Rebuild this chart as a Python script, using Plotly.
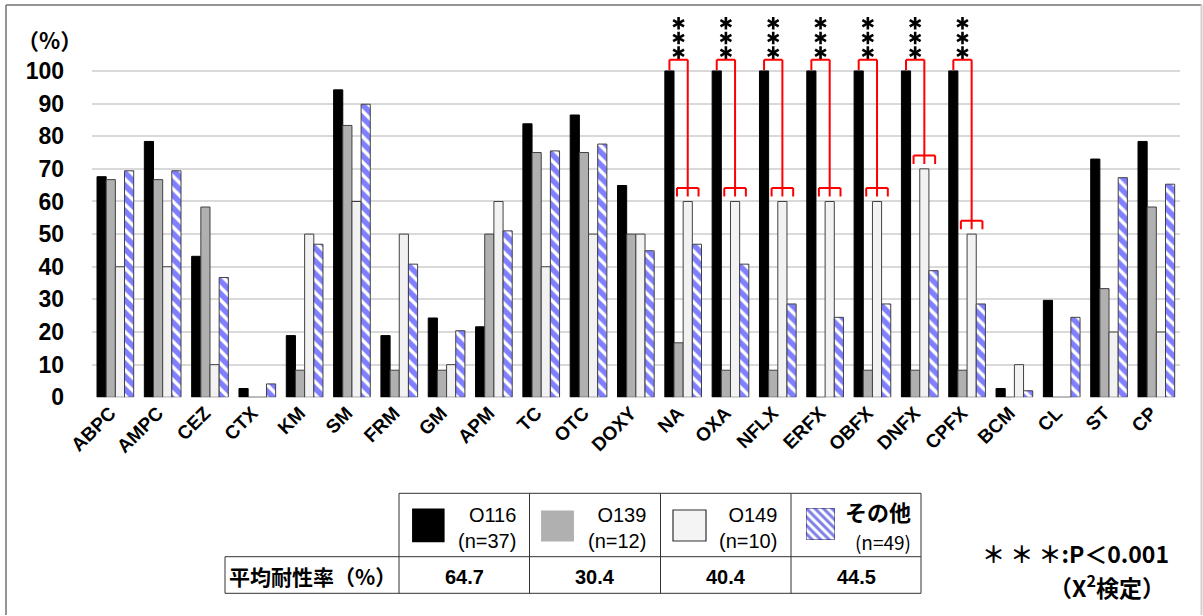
import plotly.graph_objects as go

# Antimicrobial resistance rate (%) by serogroup
drugs = ["ABPC", "AMPC", "CEZ", "CTX", "KM", "SM", "FRM", "GM", "APM", "TC", "OTC", "DOXY",
         "NA", "OXA", "NFLX", "ERFX", "OBFX", "DNFX", "CPFX", "BCM", "CL", "ST", "CP"]
o116 = [67.6, 78.4, 43.2, 2.7, 18.9, 94.2, 18.9, 24.3, 21.6, 83.8, 86.5, 64.9,
        100, 100, 100, 100, 100, 100, 100, 2.7, 29.7, 73.0, 78.4]
o139 = [66.7, 66.7, 58.3, 0, 8.3, 83.3, 8.3, 8.3, 50.0, 75.0, 75.0, 50.0,
        16.7, 8.3, 8.3, 0, 8.3, 8.3, 8.3, 0, 0, 33.3, 58.3]
o149 = [40, 40, 10, 0, 50, 60, 50, 10, 60, 40, 50, 50,
        60, 60, 60, 60, 60, 70, 50, 10, 0, 20, 20]
others = [69.4, 69.4, 36.7, 4.1, 46.9, 89.8, 40.8, 20.4, 51.0, 75.5, 77.6, 44.9,
          46.9, 40.8, 28.6, 24.5, 28.6, 38.8, 28.6, 2.0, 24.5, 67.3, 65.3]

series_names = ["O116", "O139", "O149", "その他"]
series_n = [37, 12, 10, 49]
mean_rates = [64.7, 30.4, 40.4, 44.5]

# drugs with a significant O116 vs O149 difference (***: P<0.001)
sig_drugs = ["NA", "OXA", "NFLX", "ERFX", "OBFX", "DNFX", "CPFX"]

W, H = 1203, 616
BARGAP = 0.225


def px(x):
    return x / W


def py(y):
    return 1 - y / H


FONT_LAT = "Liberation Sans, Arial, sans-serif"
FONT_JP = "Noto Sans CJK JP, sans-serif"
CLEAR = "rgba(0,0,0,0)"

pos = list(range(len(drugs)))

fig = go.Figure()

styles = [
    dict(color="#000000", line=dict(color="#000000", width=1)),
    dict(color="#b0b0b0", line=dict(color="#404040", width=1)),
    dict(color="#f2f2f2", line=dict(color="#404040", width=1)),
    dict(color="#ffffff", line=dict(color="#404040", width=1),
         pattern=dict(shape="\\", fgcolor="#0000ff", bgcolor="#ffffff", size=9, solidity=0.62)),
]
for name, vals, st in zip(series_names, [o116, o139, o149, others], styles):
    fig.add_trace(go.Bar(x=pos, y=vals, name=name, marker=st, showlegend=False,
                         customdata=drugs, hovertemplate="%{customdata}: %{y}<extra>" + name + "</extra>"))

# patterned swatch for the table key (own small axes)
fig.add_trace(go.Bar(x=[0], y=[1], width=[1], xaxis="x2", yaxis="y2", showlegend=False,
                     marker=dict(color="#ffffff", line=dict(color="#202060", width=1),
                                 pattern=dict(shape="\\", fgcolor="#0000cc", bgcolor="#ffffff",
                                              size=6, solidity=0.5)),
                     hoverinfo="skip"))

shapes = []
annotations = []


def note(x, y, text, size, family=FONT_JP, bold=False, xanchor="center", yanchor="middle",
         align="center"):
    annotations.append(dict(x=x, y=y, xref="paper", yref="paper", text=text, showarrow=False,
                            xanchor=xanchor, yanchor=yanchor, align=align,
                            font=dict(family=family, size=size, color="black",
                                      weight="bold" if bold else "normal")))


# significance brackets between O116 and O149 bars
slot = (1 - BARGAP) / 4


def bar_center(i, j):
    return i - (1 - BARGAP) / 2 + (j + 0.5) * slot


red = dict(color="#ff0000", width=2)
star_x, star_y = [], []
for d in sig_drugs:
    i = drugs.index(d)
    xb = bar_center(i, 0)
    xw = bar_center(i, 2)
    top_b = o116[i]
    top_w = o149[i]
    y_top = top_b + 3.4
    y_fork = top_w + 4.1
    y_leg = top_w + 1.5
    half = 0.228
    segs = [
        (xb, top_b + 0.3, xb, y_top),
        (xb, y_top, xw, y_top),
        (xw, y_top, xw, y_fork),
        (xw - half, y_fork, xw + half, y_fork),
        (xw - half, y_fork, xw - half, y_leg),
        (xw, y_fork, xw, y_leg),
        (xw + half, y_fork, xw + half, y_leg),
    ]
    for x0, y0, x1, y1 in segs:
        shapes.append(dict(type="line", xref="x", yref="y", x0=x0, y0=y0, x1=x1, y1=y1, line=red))
    xc = (xb + xw) / 2
    for k in range(3):
        star_x.append(xc)
        star_y.append(y_top + 2.2 + k * 4.5)

# "***" marks: three stacked six-armed asterisks per bracket
for ang in (0, 60, 120):
    fig.add_trace(go.Scatter(x=star_x, y=star_y, mode="markers", showlegend=False, hoverinfo="skip",
                             marker=dict(symbol="line-ns-open", size=9, angle=ang, color="black",
                                         line=dict(color="black", width=2.6))))

# "(%)" unit label
note(px(49), py(39), "（%）", 22, bold=True)

# key / mean-rate table
tbl_line = dict(color="#333333", width=1)
col_x = [399, 529.5, 660.5, 791, 921]
row_y = [493.3, 556.7, 593.3]
label_left = 225
for x0, y0 in [(col_x[0], row_y[0]), (label_left, row_y[1]), (label_left, row_y[2])]:
    shapes.append(dict(type="line", xref="paper", yref="paper", x0=px(x0), x1=px(col_x[-1]),
                       y0=py(y0), y1=py(y0), line=tbl_line))
shapes.append(dict(type="line", xref="paper", yref="paper", x0=px(label_left), x1=px(label_left),
                   y0=py(row_y[1]), y1=py(row_y[2]), line=tbl_line))
for cx in col_x:
    shapes.append(dict(type="line", xref="paper", yref="paper", x0=px(cx), x1=px(cx),
                       y0=py(row_y[0]), y1=py(row_y[2]), line=tbl_line))

# solid swatches
swatches = [
    (412.7, 444, 509, 541.7, "#000000", "#000000"),
    (541.7, 573.3, 511, 541, "#b0b0b0", "#b0b0b0"),
    (673, 706, 510, 541, "#f4f4f4", "#303030"),
]
for x0, x1, y0, y1, fc, lc in swatches:
    shapes.append(dict(type="rect", xref="paper", yref="paper", x0=px(x0), x1=px(x1),
                       y0=py(y1), y1=py(y0), fillcolor=fc, line=dict(color=lc, width=1.2)))

key_right = [518, 648, 779, 913]
for k, (nm, n) in enumerate(zip(series_names, series_n)):
    if k == 3:
        label = f"<b>{nm}</b><br><span style='font-size:19px'>(n={n})</span>"
        note(px(key_right[k]), py(525), label, 22, xanchor="right", align="right")
    else:
        note(px(key_right[k]), py(528), f"{nm}<br>(n={n})", 20, family=FONT_LAT,
             xanchor="right", align="right")
    note(px((col_x[k] + col_x[k + 1]) / 2), py(577), f"{mean_rates[k]:.1f}", 20,
         family=FONT_LAT, bold=True)

note(px((label_left + col_x[0]) / 2), py(576), "平均耐性率（%）", 21, bold=True)

# significance footnote
note(px(1171), py(553), "＊&nbsp;＊&nbsp;＊:P＜0.001", 23, bold=True, xanchor="right")
note(px(1167), py(586), "（X<sup>2</sup>検定）", 23, bold=True, xanchor="right")

# outer frame
shapes.append(dict(type="line", xref="paper", yref="paper", x0=px(6), x1=px(6), y0=py(5), y1=py(615),
                   line=dict(color="#707070", width=1.5)))
shapes.append(dict(type="line", xref="paper", yref="paper", x0=px(6), x1=px(1201.5), y0=py(5), y1=py(5),
                   line=dict(color="#707070", width=1.5)))
shapes.append(dict(type="line", xref="paper", yref="paper", x0=px(1201.5), x1=px(1201.5), y0=py(5), y1=py(615),
                   line=dict(color="#d0d0d0", width=2)))

fig.update_layout(
    width=W, height=H, autosize=False,
    margin=dict(l=0, r=0, t=0, b=0, pad=0),
    paper_bgcolor="white", plot_bgcolor="white",
    barmode="group", bargap=BARGAP, bargroupgap=0,
    shapes=shapes, annotations=annotations,
    xaxis=dict(domain=[px(91.7), px(1180)], range=[-0.5, len(drugs) - 0.5],
               tickvals=pos, ticktext=drugs, tickangle=-45, showgrid=False, zeroline=False,
               showline=False, ticks="", ticklabelshift=-5, automargin=False,
               tickfont=dict(family=FONT_LAT, size=19, color="black", weight="bold")),
    yaxis=dict(domain=[py(397.3), py(12.2)], range=[0, 118], tickvals=list(range(0, 101, 10)),
               showgrid=True, gridcolor="#d9d9d9", gridwidth=1.5, zeroline=False, showline=False,
               ticks="outside", ticklen=22, tickcolor=CLEAR, automargin=False,
               tickfont=dict(family=FONT_LAT, size=23, color="black", weight="bold")),
    xaxis2=dict(domain=[px(806), px(835)], range=[-0.5, 0.5], visible=False, anchor="y2"),
    yaxis2=dict(domain=[py(540), py(508)], range=[0, 1], visible=False, anchor="x2"),
)

fig.write_html("out.html", config={"responsive": False})
